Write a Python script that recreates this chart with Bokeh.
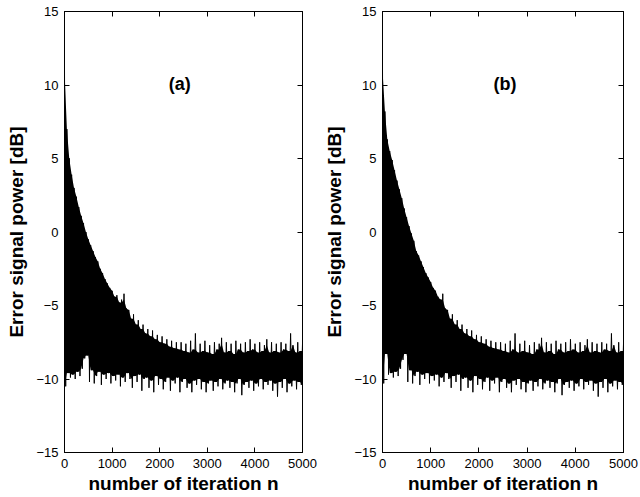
import numpy as np
from bokeh.plotting import figure
from bokeh.layouts import row
from bokeh.models import Range1d, LinearAxis, FixedTicker, Label
from bokeh.embed import file_html
from bokeh.resources import INLINE

# iteration grid: peaks at n = 0, 50, ..., 5000 ; troughs at n = 25, 75, ..., 4975
peak_step = 50
trough_offset = 25

# panel (a) upper excursions (dB)
peaks_a = [11.0, 7.0, 5.0, 3.9, 3.0, 2.4, 1.7, 1.1, 0.6, 0.0,
           -0.5, -0.9, -1.3, -1.7, -2.0, -2.5, -2.8, -3.2, -3.5, -3.8,
           -4.0, -4.4, -4.3, -4.8, -4.6, -4.2, -5.2, -5.3, -5.9, -5.6,
           -6.3, -6.0, -6.6, -6.3, -6.9, -6.6, -7.1, -6.7, -7.3, -7.0,
           -7.5, -7.1, -7.6, -7.3, -7.8, -7.4, -7.9, -7.5, -8.0, -7.5,
           -8.1, -7.6, -8.2, -7.4, -8.0, -6.9, -8.2, -7.6, -8.1, -7.4,
           -8.2, -7.7, -8.3, -7.5, -8.0, -7.6, -7.2, -8.2, -7.5, -8.1,
           -7.6, -8.3, -7.4, -8.0, -7.6, -8.2, -7.5, -8.1, -7.3, -8.0,
           -7.6, -8.2, -7.5, -8.1, -7.7, -7.3, -8.2, -7.5, -8.1, -7.6,
           -8.2, -7.5, -8.0, -7.6, -8.1, -6.9, -7.7, -8.2, -7.5, -8.1,
           -7.6]

# panel (a) lower excursions (dB)
troughs_a = [-10.5, -9.6, -9.9, -9.7, -10.0, -9.5, -9.8, -9.3, -8.6, -8.4,
             -10.2, -9.4, -10.3, -9.8, -9.5, -10.4, -9.7, -10.0, -9.6, -10.3,
             -9.8, -10.1, -9.7, -10.5, -9.9, -10.2, -9.6, -10.0, -10.6, -9.8,
             -10.2, -9.7, -10.8, -10.0, -9.9, -10.6, -10.1, -10.9, -9.8, -10.4,
             -10.0, -10.7, -10.2, -9.9, -10.8, -10.1, -10.3, -9.9, -10.9, -10.2,
             -10.0, -10.6, -10.3, -10.9, -10.1, -10.4, -10.0, -10.7, -10.2, -10.9,
             -10.3, -10.1, -10.8, -10.2, -10.5, -10.0, -10.7, -10.3, -10.1, -10.6,
             -10.2, -10.9, -10.3, -10.0, -11.1, -10.4, -10.2, -10.6, -10.1, -10.8,
             -10.3, -10.5, -10.0, -10.7, -10.2, -10.4, -10.1, -10.8, -10.3, -11.2,
             -10.2, -10.6, -10.0, -10.9, -10.3, -10.5, -10.1, -10.7, -10.2, -10.4]

# panel (b) upper excursions (dB)
peaks_b = [11.0, 8.2, 6.3, 5.5, 4.9, 4.2, 3.5, 2.9, 2.3, 1.6,
           1.0, 0.4, -0.1, -0.6, -1.3, -1.6, -2.0, -2.4, -2.8, -3.1,
           -3.4, -3.8, -4.0, -4.4, -4.6, -4.2, -5.2, -5.3, -5.9, -5.6,
           -6.3, -6.0, -6.6, -6.3, -6.9, -6.6, -7.1, -6.7, -7.3, -7.0,
           -7.5, -7.1, -7.6, -7.3, -7.8, -7.4, -7.9, -7.5, -8.0, -7.5,
           -8.1, -7.6, -8.2, -7.4, -8.0, -6.9, -8.2, -7.6, -8.1, -7.4,
           -8.2, -7.7, -8.3, -7.5, -8.0, -7.6, -7.2, -8.2, -7.5, -8.1,
           -7.6, -8.3, -7.4, -8.0, -7.6, -8.2, -7.5, -8.1, -7.3, -8.0,
           -7.6, -8.2, -7.5, -8.1, -7.7, -7.3, -8.2, -7.5, -8.1, -7.6,
           -8.2, -7.5, -8.0, -7.6, -8.1, -6.9, -7.7, -8.2, -7.5, -8.1,
           -7.6]

# panel (b) lower excursions (dB)
troughs_b = [-10.3, -8.3, -9.7, -9.6, -9.9, -9.5, -9.8, -9.3, -8.7, -8.3,
             -10.2, -9.4, -10.3, -9.8, -9.5, -10.4, -9.7, -10.0, -9.6, -10.3,
             -9.8, -10.1, -9.7, -10.5, -9.9, -10.2, -9.6, -10.0, -10.6, -9.8,
             -10.2, -9.7, -10.8, -10.0, -9.9, -10.6, -10.1, -10.9, -9.8, -10.4,
             -10.0, -10.7, -10.2, -9.9, -10.8, -10.1, -10.3, -9.9, -10.9, -10.2,
             -10.0, -10.6, -10.3, -10.9, -10.1, -10.4, -10.0, -10.7, -10.2, -10.9,
             -10.3, -10.1, -10.8, -10.2, -10.5, -10.0, -10.7, -10.3, -10.1, -10.6,
             -10.2, -10.9, -10.3, -10.0, -11.1, -10.4, -10.2, -10.6, -10.1, -10.8,
             -10.3, -10.5, -10.0, -10.7, -10.2, -10.4, -10.1, -10.8, -10.3, -11.2,
             -10.2, -10.6, -10.0, -10.9, -10.3, -10.5, -10.1, -10.7, -10.2, -10.4]

x_ticks = [0, 1000, 2000, 3000, 4000, 5000]
y_ticks = [-15, -10, -5, 0, 5, 10, 15]
y_tick_labels = {-15: "\u221215", -10: "\u221210", -5: "\u22125", 0: "0", 5: "5", 10: "10", 15: "15"}
panel_labels = ["(a)", "(b)"]
x_label = "number of iteration n"
y_label = "Error signal power [dB]"

FONT = "Liberation Sans"


def interleave(peaks, troughs):
    xs, ys = [], []
    for i, pk in enumerate(peaks):
        xs.append(i * peak_step)
        ys.append(pk)
        if i < len(troughs):
            xs.append(i * peak_step + trough_offset)
            ys.append(troughs[i])
    return xs, ys


def core_band(peaks, troughs):
    # solid body of the noisy trace: between neighbouring peaks / troughs
    xs, top, bot = [], [], []
    for i in range(len(peaks)):
        xs.append(i * peak_step)
        top.append(min(peaks[max(0, i - 1):i + 1]))
        nb = [troughs[j] for j in (i - 1, i) if 0 <= j < len(troughs)]
        bot.append(max(nb))
    return xs, top, bot


def make_panel(peaks, troughs, label, width, bl, br, label_x):
    p = figure(width=width, height=497, output_backend="svg", toolbar_location=None,
               x_range=Range1d(0, 5000), y_range=Range1d(-15, 15),
               min_border_left=bl, min_border_right=br, min_border_top=11, min_border_bottom=45)
    p.grid.visible = False
    p.outline_line_color = "black"
    p.outline_line_width = 1
    p.background_fill_color = "white"
    p.border_fill_color = "white"

    cx, ctop, cbot = core_band(peaks, troughs)
    p.varea(x=cx, y1=cbot, y2=ctop, fill_color="black")
    xs, ys = interleave(peaks, troughs)
    p.line(xs, ys, line_color="black", line_width=1.0)

    for ax in p.xaxis:
        ax.ticker = FixedTicker(ticks=x_ticks)
        ax.axis_label = x_label
    for ax in p.yaxis:
        ax.ticker = FixedTicker(ticks=y_ticks)
        ax.axis_label = y_label
        ax.major_label_overrides = y_tick_labels
    for ax in list(p.xaxis) + list(p.yaxis):
        ax.major_tick_in = 5
        ax.major_tick_out = 0
        ax.minor_tick_line_color = None
        ax.major_label_text_font = FONT
        ax.major_label_text_font_size = "13px"
        ax.major_label_text_color = "black"
        ax.axis_label_text_font = FONT
        ax.axis_label_text_font_size = "19px"
        ax.axis_label_text_font_style = "bold"
        ax.axis_label_text_color = "black"
        ax.axis_line_color = "black"
        ax.major_tick_line_color = "black"
        ax.major_label_standoff = 6
    p.xaxis.axis_label_standoff = 2
    p.yaxis.axis_label_standoff = 6

    top = LinearAxis(ticker=FixedTicker(ticks=x_ticks),
                     major_label_overrides={t: "" for t in x_ticks},
                     major_tick_in=5, major_tick_out=0, minor_tick_line_color=None,
                     major_label_standoff=0)
    right = LinearAxis(ticker=FixedTicker(ticks=y_ticks),
                       major_label_overrides={t: "" for t in y_ticks},
                       major_tick_in=5, major_tick_out=0, minor_tick_line_color=None,
                       major_label_standoff=0)
    p.add_layout(top, "above")
    p.add_layout(right, "right")

    p.add_layout(Label(x=label_x, y=10.1, text=label, text_font=FONT, text_font_size="18px",
                       text_font_style="bold", text_align="center", text_baseline="middle",
                       text_color="black"))
    return p


p1 = make_panel(peaks_a, troughs_a, panel_labels[0], 320, 64, 18, 2420)
p2 = make_panel(peaks_b, troughs_b, panel_labels[1], 320, 62, 17, 2540)

layout = row(p1, p2, spacing=0)
open("out.html", "w").write(file_html(layout, INLINE))
